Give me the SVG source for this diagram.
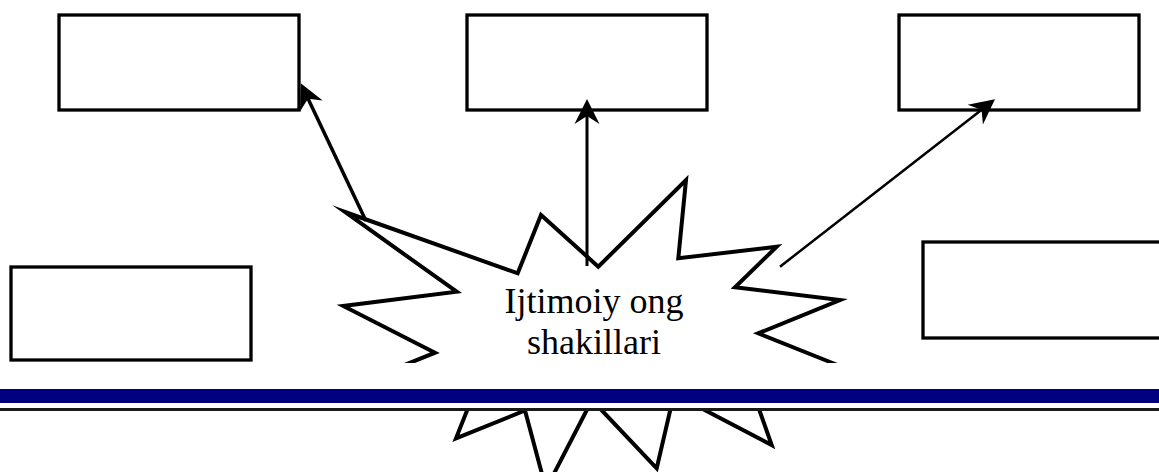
<svg xmlns="http://www.w3.org/2000/svg" width="1159" height="472" viewBox="0 0 1159 472">
  <style>
    .box { fill: #ffffff; stroke: #000000; stroke-width: 3.3; }
    .burst { fill: #ffffff; stroke: #000000; stroke-width: 4; stroke-linejoin: miter; stroke-miterlimit: 12; }
    .arrow { fill: none; stroke: #000000; stroke-linecap: butt; marker-end: url(#ah); }
    .label { font-family: "Liberation Serif", "Times New Roman", serif; font-size: 36px; fill: #000000; text-anchor: middle; }
  </style>
  <defs>
    <marker id="ah" markerUnits="userSpaceOnUse" viewBox="-20 -15 35 30" refX="0" refY="0" markerWidth="35" markerHeight="30" orient="auto" overflow="visible">
      <path d="M10,0 L-15,-12.5 L-7,0 L-15,12.5 Z" fill="#000000"/>
    </marker>
    <clipPath id="burstClip">
      <rect x="0" y="0" width="1159" height="363"/>
      <rect x="0" y="408" width="1159" height="64"/>
    </clipPath>
  </defs>

  <rect x="0" y="0" width="1159" height="472" fill="#ffffff"/>

  <g id="node-box1"><rect class="box" x="59" y="15" width="240" height="95"/></g>
  <g id="node-box2"><rect class="box" x="467" y="15" width="240" height="95"/></g>
  <g id="node-box3"><rect class="box" x="899" y="15" width="240" height="95"/></g>
  <g id="node-box4"><rect class="box" x="11" y="267" width="240" height="93"/></g>
  <g id="node-box5"><rect class="box" x="923" y="242" width="270" height="96"/></g>

  <g id="node-burst">
    <g clip-path="url(#burstClip)">
      <polygon class="burst" points="345,212 517.7,273.3 541,215 598.3,266.7 686,180 678.3,258.3 776.7,246.7 735,287.3 840,300 758.3,333.3 880,382 754,395 771.7,445 674,394 656.7,468.3 592,400 546,489 525,410.5 456,438.3 472,398 370,379 435,352.7 343.3,306 456.7,291.7"/>
    </g>
  </g>

  <g id="connectors">
    <line class="arrow" x1="366" y1="221" x2="305" y2="92.3" stroke-width="3.5"/>
    <line class="arrow" x1="587" y1="266" x2="587" y2="109" stroke-width="3"/>
    <line class="arrow" x1="780" y1="266.7" x2="987.1" y2="105.4" stroke-width="2.5"/>
  </g>

  <g id="node-burst-label">
    <text class="label" x="594" y="313">Ijtimoiy ong</text>
    <text class="label" x="594" y="354">shakillari</text>
  </g>

  <g id="band">
    <rect x="0" y="389" width="1159" height="14" fill="#000080"/>
    <rect x="0" y="408" width="1159" height="3" fill="#1a1a1a"/>
  </g>
</svg>
